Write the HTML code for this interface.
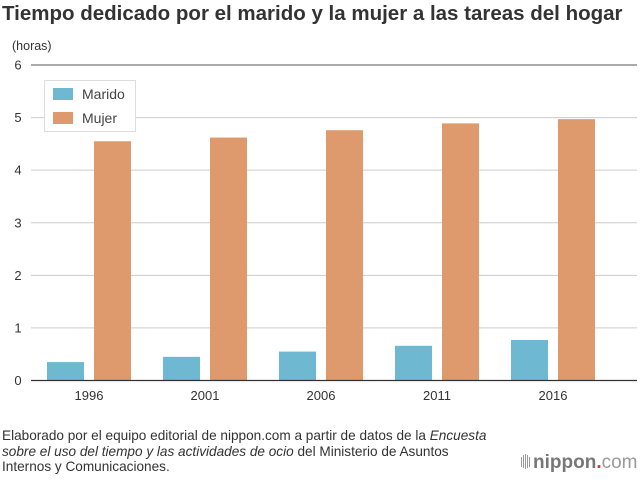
<!DOCTYPE html>
<html><head><meta charset="utf-8"><style>
body{margin:0;background:#fff;font-family:"Liberation Sans",sans-serif;}
svg text{font-family:"Liberation Sans",sans-serif;}
</style></head><body>
<svg width="640" height="475" xmlns="http://www.w3.org/2000/svg">
<text x="2" y="20" font-size="20.5" font-weight="bold" fill="#333">Tiempo dedicado por el marido y la mujer a las tareas del hogar</text>
<text x="12" y="50" font-size="12.5" fill="#333">(horas)</text>
<g id="grid"></g>
<g id="bars"></g>
<g id="xlabels"></g>
<line x1="31" x2="637" y1="380.5" y2="380.5" stroke="#333" stroke-width="1.3"/>
<g>
<rect x="44.5" y="80.5" width="91" height="51" fill="#fff" stroke="#ddd"/>
<rect x="53" y="88" width="20" height="12" fill="#6fb8d2"/>
<text x="82" y="99" font-size="14" fill="#444">Marido</text>
<rect x="53" y="112" width="20" height="12" fill="#de9a6d"/>
<text x="82" y="123" font-size="14" fill="#444">Mujer</text>
</g>
<g font-size="13.6" fill="#333">
<text x="2" y="440">Elaborado por el equipo editorial de nippon.com a partir de datos de la <tspan font-style="italic">Encuesta</tspan></text>
<text x="2" y="456"><tspan font-style="italic">sobre el uso del tiempo y las actividades de ocio</tspan> del Ministerio de Asuntos</text>
<text x="2" y="471">Internos y Comunicaciones.</text>
</g>
<g>
<rect x="521" y="457" width="1" height="10" fill="#999"/><rect x="523" y="455" width="1" height="13" fill="#999"/><rect x="525" y="454" width="1" height="15" fill="#999"/><rect x="527" y="455" width="1" height="13" fill="#999"/><rect x="529" y="457" width="1" height="10" fill="#999"/>
<text x="533" y="468" font-size="19" font-weight="bold" fill="#777">nippon<tspan fill="#d33">.</tspan><tspan font-weight="normal" fill="#999">com</tspan></text>
</g>
</svg>
<script>
const categories=["1996","2001","2006","2011","2016"];
const marido=[0.35,0.45,0.55,0.66,0.77];
const mujer=[4.55,4.62,4.76,4.89,4.97];
const yTicks=[0,1,2,3,4,5,6];
const NS="http://www.w3.org/2000/svg";
function y(v){return 380.5-v*(380.5-65)/6;}
function xg(i){return 89+116*i;}
const grid=document.getElementById('grid');
yTicks.forEach(t=>{
 if(t>0){const l=document.createElementNS(NS,'line');
 l.setAttribute('x1',31);l.setAttribute('x2',637);l.setAttribute('y1',y(t));l.setAttribute('y2',y(t));
 l.setAttribute('stroke',t===6?'#777':'#ccc');l.setAttribute('stroke-width',t===6?1.2:1);
 
 
 grid.appendChild(l);}
 const tx=document.createElementNS(NS,'text');
 tx.setAttribute('x',18);tx.setAttribute('y',y(t)+4.5);tx.setAttribute('font-size','13');tx.setAttribute('text-anchor','middle');tx.setAttribute('fill','#333');
 tx.textContent=t;
 
 
 grid.appendChild(tx);
});
const bars=document.getElementById('bars'),xl=document.getElementById('xlabels');
categories.forEach((c,i)=>{
 [[marido[i],-42,'#6fb8d2','marido'],[mujer[i],5,'#de9a6d','mujer']].forEach(([v,off,col,nm])=>{
  const r=document.createElementNS(NS,'rect');
  r.setAttribute('x',xg(i)+off);r.setAttribute('width',37);
  r.setAttribute('y',y(v));r.setAttribute('height',380.5-y(v));
  r.setAttribute('fill',col);
  
  
  bars.appendChild(r);
 });
 const t=document.createElementNS(NS,'text');
 t.setAttribute('x',xg(i));t.setAttribute('y',400);t.setAttribute('font-size','13');t.setAttribute('text-anchor','middle');t.setAttribute('fill','#333');
 t.textContent=c;
 
 
 xl.appendChild(t);
});
</script>
</body></html>
